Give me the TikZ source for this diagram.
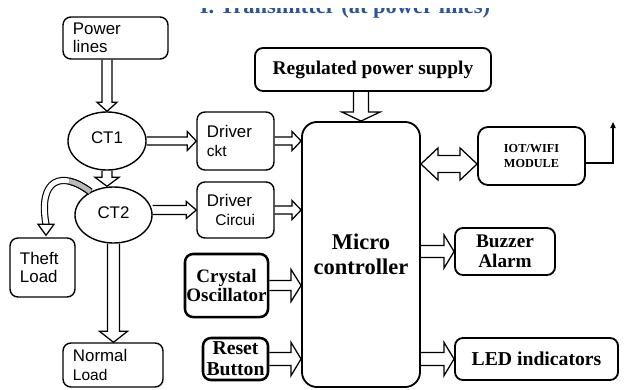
\documentclass[tikz,border=0pt]{standalone}
\usepackage{fontspec}
\setmainfont{Liberation Serif}
\setsansfont{Liberation Sans}
\usetikzlibrary{shapes.geometric, arrows.meta, positioning, calc}
\definecolor{cTitle}{RGB}{47,84,150}
\definecolor{cShade}{RGB}{185,185,185}
\newcommand{\pxu}{0.025cm}
% block arrow: start, end, shaft half width, head half width, head length (px)
\newcommand{\barrow}[5]{%
	\coordinate (ba-s) at (#1);
	\coordinate (ba-e) at (#2);
	\coordinate (ba-h) at ($(ba-e)!#5*\pxu!(ba-s)$);
	\draw[blockarrow] ($(ba-s)!#3*\pxu!90:(ba-e)$) -- ($(ba-h)!#3*\pxu!90:(ba-e)$) -- ($(ba-h)!#4*\pxu!90:(ba-e)$) -- (ba-e)
		-- ($(ba-h)!#4*\pxu!-90:(ba-e)$) -- ($(ba-h)!#3*\pxu!-90:(ba-e)$) -- ($(ba-s)!#3*\pxu!-90:(ba-e)$);
}
\newcommand{\dbarrow}[5]{%
	\coordinate (ba-s) at (#1);
	\coordinate (ba-e) at (#2);
	\coordinate (ba-h) at ($(ba-s)!#5*\pxu!(ba-e)$);
	\coordinate (ba-g) at ($(ba-e)!#5*\pxu!(ba-s)$);
	\draw[blockarrow] (ba-s) -- ($(ba-h)!#4*\pxu!90:(ba-e)$) -- ($(ba-h)!#3*\pxu!90:(ba-e)$) -- ($(ba-g)!#3*\pxu!90:(ba-e)$)
		-- ($(ba-g)!#4*\pxu!90:(ba-e)$) -- (ba-e) -- ($(ba-g)!#4*\pxu!-90:(ba-e)$) -- ($(ba-g)!#3*\pxu!-90:(ba-e)$)
		-- ($(ba-h)!#3*\pxu!-90:(ba-e)$) -- ($(ba-h)!#4*\pxu!-90:(ba-e)$) -- cycle;
}
\tikzset{
	sbox/.style      ={rectangle, rounded corners=0.2cm, draw=black, line width=1pt, align=left, inner xsep=0.25cm, inner ysep=2pt, font=\sffamily\fontsize{12}{13}\selectfont},
	bbox/.style      ={rectangle, rounded corners=0.2cm, draw=black, line width=1.3pt, align=center, inner sep=1pt, font=\bfseries\fontsize{14}{14}\selectfont},
	ctell/.style     ={ellipse, draw=black, line width=1pt, inner sep=0pt, font=\sffamily\fontsize{12}{13}\selectfont},
	blockarrow/.style={draw=black, line width=0.9pt, line join=miter},
	curvshaft/.style ={draw=black, double=white, double distance=3.5pt, line width=0.8pt},
	antline/.style   ={-{Triangle[length=0.15cm, width=0.13cm]}, line width=1.2pt},
	titletext/.style ={font=\bfseries\fontsize{16}{16}\selectfont, text=cTitle},
}
\begin{document}
\begin{tikzpicture}[x=0.025cm, y=-0.025cm]
	\useasboundingbox (0,0) rectangle (636,389);
	\begin{scope}
		\clip (150,8) rectangle (520,20);
		\node[titletext, anchor=base] (ttl) at (345,13) {I. Transmitter (at power lines)};
	\end{scope}
	% left column
	\node[sbox, text width=2.125cm, minimum height=1.05cm] (pwr) at (115.5,38) {Power\\lines};
	\node[ctell, minimum width=1.95cm, minimum height=1.45cm] (ct1) at (107,141) {\raisebox{5pt}{CT1}};
	\node[ctell, minimum width=1.925cm, minimum height=1.4cm] (ct2) at (113.5,215) {\raisebox{4pt}{CT2}};
	\node[sbox, text width=1.125cm, minimum height=1.475cm] (theft) at (42.5,267.5) {Theft\\Load};
	\node[sbox, text width=2cm, minimum height=1.1cm] (normal) at (113,365) {Normal\\{\fontsize{11}{13}\selectfont Load}};
	\node[sbox, text width=1.425cm, minimum height=1.45cm] (drv1) at (235.5,141) {Driver\\{\fontsize{11}{13}\selectfont ckt}};
	\node[sbox, text width=1.425cm, minimum height=1.4cm] (drv2) at (235.5,210) {Driver\\\hspace*{6pt}{\fontsize{11}{13}\selectfont Circui}};
	\node[bbox, line width=1.8pt, minimum width=2.075cm, minimum height=1.575cm, font=\bfseries\fontsize{13.5}{13}\selectfont] (xtal) at (226.5,285.5) {Crystal\\Oscillator};
	\node[bbox, line width=1.8pt, minimum width=1.625cm, minimum height=1.05cm, font=\bfseries\fontsize{14}{15}\selectfont] (rst) at (235.5,359) {Reset\\Button};
	% controller and outputs
	\node[bbox, minimum width=5.9cm, minimum height=1.075cm, font=\bfseries\fontsize{13.8}{14}\selectfont] (rps) at (373,69.5) {Regulated power supply};
	\node[bbox, rounded corners=0.375cm, minimum width=2.95cm, minimum height=6.625cm, font=\bfseries\fontsize{16}{18}\selectfont] (mcu) at (361,254.5) {Micro\\controller};
	\node[bbox, rounded corners=0.25cm, minimum width=2.675cm, minimum height=1.45cm, font=\bfseries\fontsize{8.7}{11}\selectfont] (iot) at (531.5,156) {IOT/WIFI\\MODULE};
	\node[bbox, minimum width=2.5cm, minimum height=1.175cm, font=\bfseries\fontsize{13.7}{14}\selectfont] (buzz) at (505,251.5) {Buzzer\\Alarm};
	\node[bbox, minimum width=4.075cm, minimum height=1.05cm] (led) at (536.5,359) {LED indicators};
	% connectors
	\barrow{ct1.north |- pwr.south}{ct1.north}{5}{10}{9}
	\barrow{ct1.east}{drv1.west}{4}{9.5}{9}
	\barrow{drv1.east}{mcu.west |- drv1.east}{4}{9.5}{9}
	\barrow{mcu.north |- rps.south}{mcu.north}{7.5}{19}{9}
	\barrow{ct1.south}{ct1.south |- ct2.north}{5}{12}{9}
	\barrow{drv2.west -| ct2.east}{drv2.west}{4.5}{8.5}{10}
	\barrow{drv2.east}{mcu.west |- drv2.east}{4}{9.5}{9}
	\barrow{ct2.south}{ct2.south |- normal.north}{6}{14}{11}
	\barrow{xtal.east}{mcu.west |- xtal.east}{5}{16}{10}
	\barrow{rst.east}{mcu.west |- rst.east}{6.5}{16.5}{10}
	\barrow{mcu.east |- buzz.west}{buzz.west}{6}{16.5}{10}
	\barrow{mcu.east |- led.west}{led.west}{6.5}{16.5}{10}
	\coordinate (iotin) at ($(iot.west)+(0,8)$);
	\dbarrow{mcu.east |- iotin}{iotin}{8.5}{16}{17}
	\coordinate (ant) at (613,122);
	\draw[antline] ($(iot.east)+(0,7)$) -| (ant);
	% theft branch
	\coordinate (thtip) at ($(theft.north)+(3.5,-2)$);
	\coordinate (thbase) at ($(thtip)+(0,-11)$);
	\draw[curvshaft] (ct2.135) .. controls +(-29,-22) and +(-8,-45) .. (thbase);
	\draw[curvshaft, double=cShade, dash pattern=on 0.6cm off 6cm] (ct2.135) .. controls +(-29,-22) and +(-8,-45) .. (thbase);
	\draw[blockarrow, fill=white] ($(thbase)+(-8,0)$) -- ($(thbase)+(8,0)$) -- (thtip) -- cycle;
\end{tikzpicture}
\end{document}
